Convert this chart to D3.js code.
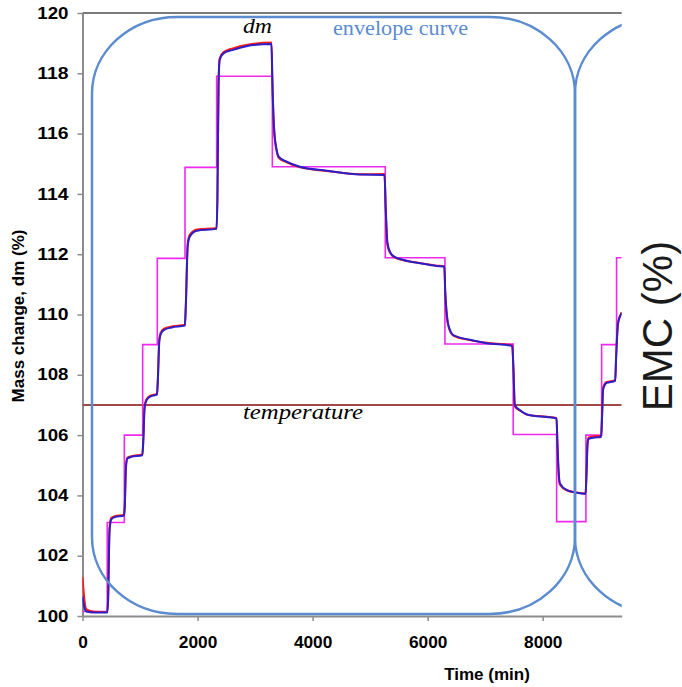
<!DOCTYPE html>
<html>
<head>
<meta charset="utf-8">
<script src="https://cdn.jsdelivr.net/npm/d3@7"></script>
<style>
  body { margin: 0; background: #fff; }
  svg { display: block; }
</style>
</head>
<body>
<script>
// time axis (min) and sample mass change (%)
var times = [0, 30, 70, 200, 430, 445, 470, 500, 560, 720, 735, 755, 780, 850, 1040,
  1055, 1080, 1115, 1180, 1295, 1310, 1335, 1360, 1420, 1550, 1780, 1795, 1830, 1870,
  1990, 2330, 2345, 2365, 2385, 2450, 2600, 2740, 2970, 3285, 3300, 3330, 3375, 3410,
  3550, 3780, 4250, 4820, 5250, 5270, 5300, 5345, 5420, 5580, 5870, 6160, 6290, 6305,
  6340, 6360, 6445, 6735, 7025, 7470, 7490, 7515, 7600, 7720, 7840, 8070, 8240, 8255,
  8280, 8300, 8415, 8650, 8745, 8760, 8780, 8800, 8900, 9015, 9030, 9050, 9110, 9260,
  9275, 9310, 9355, 9373];

var dmBlue = [100.64, 100.30, 100.15, 100.12, 100.12, 100.50, 102.80, 103.20, 103.28, 103.33, 103.60, 104.90, 105.22, 105.28, 105.33,
  105.70, 106.90, 107.16, 107.28, 107.34, 107.80, 109.10, 109.35, 109.49, 109.57, 109.63, 110.20, 112.30, 112.60,
  112.78, 112.84, 113.80, 117.60, 118.44, 118.66, 118.77, 118.85, 118.94, 118.97, 117.80, 116.20, 115.46, 115.24,
  115.07, 114.90, 114.77, 114.64, 114.63, 113.60, 112.40, 112.08, 111.92, 111.81, 111.70, 111.61, 111.59, 110.80,
  109.90, 109.65, 109.32, 109.16, 109.05, 108.96, 108.30, 107.00, 106.83, 106.69, 106.64, 106.60, 106.55, 105.80,
  104.70, 104.40, 104.18, 104.07, 104.05, 104.60, 105.70, 105.88, 105.92, 105.94, 106.50, 107.50, 107.73, 107.80,
  108.50, 109.70, 109.98, 110.05];

var dmRed = [101.30, 100.60, 100.22, 100.14, 100.13, 100.60, 102.95, 103.25, 103.31, 103.36, 103.70, 105.00, 105.25, 105.30, 105.36,
  105.80, 107.00, 107.20, 107.31, 107.37, 107.90, 109.20, 109.40, 109.53, 109.60, 109.66, 110.30, 112.40, 112.66,
  112.82, 112.87, 113.90, 117.70, 118.50, 118.70, 118.82, 118.90, 118.98, 119.02, 117.70, 116.10, 115.42, 115.20,
  115.05, 114.88, 114.76, 114.65, 114.66, 113.50, 112.30, 112.05, 111.90, 111.80, 111.71, 111.62, 111.60, 110.70,
  109.80, 109.62, 109.30, 109.15, 109.06, 108.98, 108.20, 106.95, 106.82, 106.68, 106.64, 106.61, 106.57, 105.70,
  104.60, 104.35, 104.17, 104.08, 104.07, 104.70, 105.80, 105.92, 105.96, 105.98, 106.60, 107.58, 107.76, 107.82,
  108.60, 109.75, 110.00, 110.08];

// target EMC steps (start time, level)
var emcTimes  = [0, 430, 727, 1046, 1300, 1782, 2332, 3300, 5263, 6300, 7487, 8242, 8751, 9024, 9284, 9373];
var emcValues = [100.15, 103.10, 106.00, 109.00, 111.86, 114.88, 117.90, 114.90, 111.88, 109.02, 106.02, 103.13, 106.00, 109.00, 111.88, 111.88];

// temperature level
var tempTimes  = [0, 9373];
var tempValues = [107.0, 107.0];

// envelope curves: start / end time, bottom / top level
var envStart = [165, 8561];
var envEnd   = [8561, 17000];
var envLow = 100.07, envHigh = 119.87;
var envRx = 1480, envRy = 2.55;

var xTicks = [0, 2000, 4000, 6000, 8000];
var yTicks = [100, 102, 104, 106, 108, 110, 112, 114, 116, 118, 120];

var width = 682,
    height = 687;

var svg = d3.select('body')
  .append('svg')
  .attr('width', width)
  .attr('height', height);

var x = d3.scaleLinear().domain([0, 9373]).range([82.5, 621.7]);
var y = d3.scaleLinear().domain([100, 120]).range([616, 13]);

svg.append('defs').append('clipPath')
  .attr('id', 'plotclip')
  .append('rect')
  .attr('x', x(0)).attr('y', 0)
  .attr('width', x(9373) - x(0)).attr('height', y(100) + 2);

// axes
var yAxis = svg.append('g')
  .attr('transform', 'translate(' + x(0) + ',0)')
  .call(d3.axisLeft(y).tickValues(yTicks).tickFormat(d3.format('d'))
    .tickSize(5).tickPadding(9).tickSizeOuter(0));

var xAxis = svg.append('g')
  .attr('transform', 'translate(0,' + y(100) + ')')
  .call(d3.axisBottom(x).tickValues(xTicks).tickFormat(d3.format('d'))
    .tickSize(5).tickPadding(16).tickSizeOuter(0));

[yAxis, xAxis].forEach(function(g) {
  g.select('.domain').attr('stroke', '#8c8c8c').attr('stroke-width', 2);
  g.selectAll('.tick line').attr('stroke', '#8c8c8c').attr('stroke-width', 1.5);
  g.selectAll('.tick text')
    .attr('fill', '#000')
    .style('font-family', '"Liberation Sans", Arial, sans-serif')
    .style('font-weight', 'bold')
    .style('font-size', '16px');
});
yAxis.selectAll('.tick text')
  .attr('textLength', function(d) { return String(d).length * 10.4; })
  .attr('lengthAdjust', 'spacingAndGlyphs');
xAxis.selectAll('.tick text')
  .attr('textLength', function(d) { return String(d).length * 9.6; })
  .attr('lengthAdjust', 'spacingAndGlyphs');

// top border
svg.append('line')
  .attr('x1', x(0)).attr('x2', x(9373))
  .attr('y1', y(120)).attr('y2', y(120))
  .attr('stroke', '#7a7a7a').attr('stroke-width', 2);

var plot = svg.append('g').attr('clip-path', 'url(#plotclip)');

function series(xs, ys) {
  return xs.map(function(t, i) { return [t, ys[i]]; });
}

var line = d3.line()
  .x(function(d) { return x(d[0]); })
  .y(function(d) { return y(d[1]); })
  .curve(d3.curveMonotoneX);

var stepLine = d3.line()
  .x(function(d) { return x(d[0]); })
  .y(function(d) { return y(d[1]); })
  .curve(d3.curveStepAfter);

plot.append('path')
  .attr('d', line(series(tempTimes, tempValues)))
  .attr('fill', 'none')
  .attr('stroke', '#a04a48')
  .attr('stroke-width', 2);

plot.append('path')
  .attr('d', stepLine(series(emcTimes, emcValues)))
  .attr('fill', 'none')
  .attr('stroke', '#f028f0')
  .attr('stroke-width', 1.6);

plot.append('path')
  .attr('d', line(series(times, dmRed)))
  .attr('fill', 'none')
  .attr('stroke', '#ff1a1a')
  .attr('stroke-width', 2);

plot.append('path')
  .attr('d', line(series(times, dmBlue)))
  .attr('fill', 'none')
  .attr('stroke', '#2a1fc8')
  .attr('stroke-width', 2);

// rounded envelope outline, corners as quarter ellipses
function envelopePath(t0, t1) {
  var k = 0.5523;
  var L = x(t0), R = x(t1), T = y(envHigh), B = y(envLow);
  var rx = x(t0 + envRx) - x(t0), ry = y(envLow) - y(envLow + envRy);
  var p = d3.path();
  p.moveTo(L, T + ry);
  p.bezierCurveTo(L, T + ry - k * ry, L + rx - k * rx, T, L + rx, T);
  p.lineTo(R - rx, T);
  p.bezierCurveTo(R - rx + k * rx, T, R, T + ry - k * ry, R, T + ry);
  p.lineTo(R, B - ry);
  p.bezierCurveTo(R, B - ry + k * ry, R - rx + k * rx, B, R - rx, B);
  p.lineTo(L + rx, B);
  p.bezierCurveTo(L + rx - k * rx, B, L, B - ry + k * ry, L, B - ry);
  p.closePath();
  return p.toString();
}

plot.selectAll('path.envelope')
  .data(envStart)
  .enter()
  .append('path')
  .attr('class', 'envelope')
  .attr('d', function(d, i) { return envelopePath(d, envEnd[i]); })
  .attr('fill', 'none')
  .attr('stroke', '#5b8ccf')
  .attr('stroke-width', 2.5);

// labels
svg.append('text')
  .attr('x', 243).attr('y', 33)
  .attr('textLength', 29).attr('lengthAdjust', 'spacingAndGlyphs')
  .style('font-family', '"Liberation Serif", "Times New Roman", serif')
  .style('font-style', 'italic')
  .style('font-size', '20px')
  .text('dm');

svg.append('text')
  .attr('x', 333).attr('y', 35)
  .attr('textLength', 135).attr('lengthAdjust', 'spacingAndGlyphs')
  .attr('fill', '#5b8ccf')
  .style('font-family', '"Liberation Serif", "Times New Roman", serif')
  .style('font-size', '21px')
  .text('envelope curve');

svg.append('text')
  .attr('x', 243).attr('y', 419)
  .attr('textLength', 120).attr('lengthAdjust', 'spacingAndGlyphs')
  .style('font-family', '"Liberation Serif", "Times New Roman", serif')
  .style('font-style', 'italic')
  .style('font-size', '21px')
  .text('temperature');

svg.append('text')
  .attr('x', 487).attr('y', 680)
  .attr('text-anchor', 'middle')
  .style('font-family', '"Liberation Sans", Arial, sans-serif')
  .style('font-weight', 'bold')
  .style('font-size', '17px')
  .text('Time (min)');

svg.append('text')
  .attr('transform', 'translate(24,316) rotate(-90)')
  .attr('text-anchor', 'middle')
  .style('font-family', '"Liberation Sans", Arial, sans-serif')
  .style('font-weight', 'bold')
  .style('font-size', '17px')
  .text('Mass change, dm (%)');

svg.append('text')
  .attr('transform', 'translate(672,326) rotate(-90)')
  .attr('text-anchor', 'middle')
  .attr('fill', '#1a1a1a')
  .style('font-family', '"Liberation Sans", Arial, sans-serif')
  .style('font-size', '42px')
  .text('EMC (%)');
</script>
</body>
</html>
